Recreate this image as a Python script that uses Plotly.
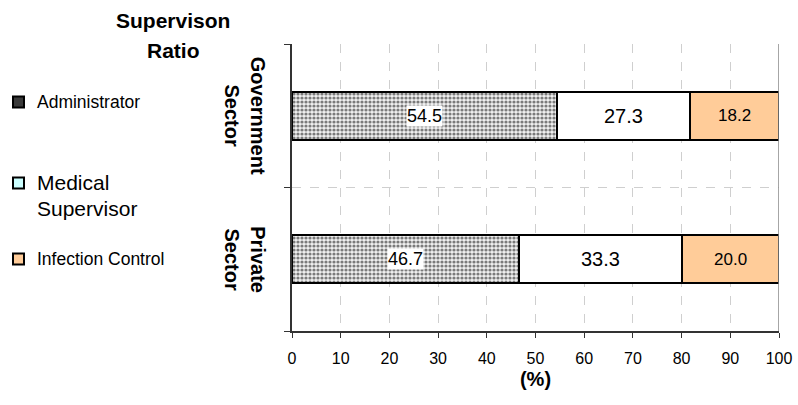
import plotly.graph_objects as go

sectors = ["Government<br>Sector", "Private<br>Sector"]
series = ["Administrator", "Medical Supervisor", "Infection Control"]
legend_labels = ["Administrator", "Medical<br>Supervisor", "Infection Control"]
administrator = [54.5, 46.7]
medical = [27.3, 33.3]
infection = [18.2, 20.0]
x_ticks = [0, 10, 20, 30, 40, 50, 60, 70, 80, 90, 100]

W, H = 798, 405
L, R, T, B = 292, 19, 44, 74
PW, PH = W - L - R, H - T - B

def px_x(p):
    return (p - L) / PW

def px_y(p):
    return (H - B - p) / PH

FONT = "Liberation Sans, Arial, sans-serif"
yidx = list(range(len(sectors)))

fig = go.Figure()
values = [administrator, medical, infection]
fills = ["#e6e6e6", "#ffffff", "#ffcc99"]
for k, (name, vals, col) in enumerate(zip(series, values, fills)):
    marker = dict(color=col, line=dict(color="black", width=2))
    if k == 0:
        marker["pattern"] = dict(shape=".", size=4, solidity=0.5, fgcolor="#7a7a7a", bgcolor="#f0f0f0", fillmode="replace")
    fig.add_trace(go.Bar(x=vals, y=yidx, orientation="h", name=name, marker=marker,
                         width=0.335, showlegend=False, hoverinfo="x+name"))

fig.update_layout(barmode="stack", width=W, height=H,
                  margin=dict(l=L, r=R, t=T, b=B, autoexpand=False),
                  paper_bgcolor="white", plot_bgcolor="white",
                  font=dict(family=FONT, color="black"))

fig.update_xaxes(range=[0, 100], tickvals=x_ticks, ticktext=[str(v) for v in x_ticks],
                 showgrid=True, gridcolor="#cfcfcf", griddash="dash", gridwidth=1,
                 showline=True, linecolor="#333333", linewidth=1.5,
                 ticks="outside", ticklen=5, tickcolor="#333333",
                 tickfont=dict(size=16, family=FONT), ticklabelstandoff=7,
                 title=dict(text="<b>(%)</b>", font=dict(size=20, family=FONT), standoff=6),
                 zeroline=False, fixedrange=True, automargin=False)
fig.update_yaxes(range=[1.5, -0.5], tickvals=[-0.5, 0.5, 1.5], showticklabels=False,
                 showgrid=True, gridcolor="#cfcfcf", griddash="dash", gridwidth=1,
                 showline=True, linecolor="#333333", linewidth=1.5,
                 ticks="outside", ticklen=6, tickcolor="#333333", zeroline=False,
                 fixedrange=True, automargin=False)

# right border line
fig.add_shape(type="line", xref="x", yref="paper", x0=100, x1=100, y0=0, y1=1,
              line=dict(color="#888888", width=1.5))

# data labels
for i in yidx:
    a, m, c = administrator[i], medical[i], infection[i]
    fig.add_annotation(x=a / 2, y=i, xref="x", yref="y", text=f"{a:.1f}", showarrow=False,
                       font=dict(size=18, family=FONT), bgcolor="white", borderpad=0)
    fig.add_annotation(x=a + m / 2, y=i, xref="x", yref="y", text=f"{m:.1f}", showarrow=False,
                       font=dict(size=20, family=FONT))
    fig.add_annotation(x=a + m + c / 2, y=i, xref="x", yref="y", text=f"{c:.1f}", showarrow=False,
                       font=dict(size=17, family=FONT))

# sector labels (rotated)
for i, s in enumerate(sectors):
    fig.add_annotation(x=px_x(245), y=i, xref="paper", yref="y", text=f"<b>{s}</b>",
                       textangle=90, showarrow=False, xanchor="center", yanchor="middle",
                       font=dict(size=20, family=FONT))

# title
fig.add_annotation(x=px_x(173), y=px_y(20), xref="paper", yref="paper", text="<b>Supervison</b>",
                   showarrow=False, font=dict(size=21, family=FONT), xanchor="center", yanchor="middle")
fig.add_annotation(x=px_x(173), y=px_y(50), xref="paper", yref="paper", text="<b>Ratio</b>",
                   showarrow=False, font=dict(size=21, family=FONT), xanchor="center", yanchor="middle")

# legend (manual)
leg_y = [102, 183, 259]
leg_size = [17.5, 21, 17.5]
leg_cols = ["#3a3a3a", "#ccffff", "#ffcc99"]
for k, lab in enumerate(legend_labels):
    yc = leg_y[k]
    fig.add_shape(type="rect", xref="paper", yref="paper",
                  x0=px_x(13), x1=px_x(24), y0=px_y(yc - 5.5), y1=px_y(yc + 5.5),
                  fillcolor=leg_cols[k], line=dict(color="black", width=2))
    if k == 1:
        fig.add_annotation(x=px_x(35), y=px_y(yc - 1), xref="paper", yref="paper", text="Medical",
                           showarrow=False, xanchor="left", yanchor="middle", font=dict(size=leg_size[k], family=FONT))
        fig.add_annotation(x=px_x(35), y=px_y(yc + 25), xref="paper", yref="paper", text="Supervisor",
                           showarrow=False, xanchor="left", yanchor="middle", font=dict(size=leg_size[k], family=FONT))
    else:
        fig.add_annotation(x=px_x(35), y=px_y(yc), xref="paper", yref="paper", text=lab,
                           showarrow=False, xanchor="left", yanchor="middle", font=dict(size=leg_size[k], family=FONT))

fig.write_html("out.html")
